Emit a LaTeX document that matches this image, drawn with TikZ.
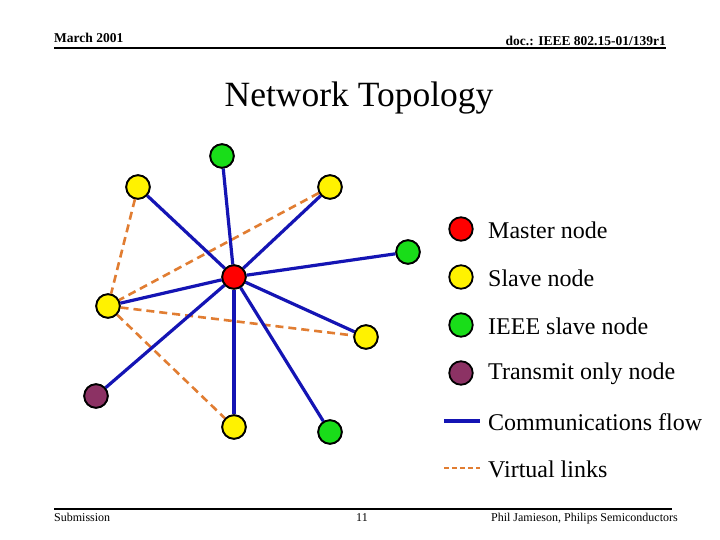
\documentclass[tikz,border=0pt]{standalone}
\usepackage{fontspec}
\setmainfont{Liberation Serif}
\begin{document}
\begin{tikzpicture}[x=1pt,y=-1pt,
  nd/.style={circle,draw=black,line width=1.8pt,minimum size=23.5pt,inner sep=0pt},
  master/.style={nd,fill=red},
  slave/.style={nd,fill=yellow},
  ieee/.style={nd,fill=green!85!black!90},
  tx/.style={nd,fill={rgb,255:red,140;green,50;blue,100}},
  comm/.style={draw={rgb,255:red,20;green,20;blue,180},line width=3.2pt},
  virt/.style={draw={rgb,255:red,225;green,125;blue,50},line width=2.6pt,dash pattern=on 8pt off 5pt},
  legtxt/.style={anchor=west,inner sep=0pt,font=\fontsize{24}{28}\selectfont},
  hdr/.style={inner sep=0pt,font=\fontsize{13.5}{15}\selectfont\bfseries},
  ftr/.style={inner sep=0pt,font=\fontsize{12}{14}\selectfont}]
\useasboundingbox[fill=white] (0,0) rectangle (720,540);
% header/footer
\node[hdr,anchor=base west] (date) at (54,43) {March 2001};
\node[hdr,anchor=base east] (doc) at (666,46) {doc.: IEEE 802.15-01/139r1};
\coordinate (hl) at (54,48); \coordinate (hr) at (666,48);
\draw[line width=2pt] (hl) -- (hr);
\coordinate (fl) at (54,509); \coordinate (fr) at (672,509);
\draw[line width=2pt] (fl) -- (fr);
\node[ftr,anchor=base west] (sub) at (54,521) {Submission};
\node[ftr,anchor=base] (pg) at (362,521) {11};
\node[ftr,anchor=base east] (auth) at (678,521) {Phil Jamieson, Philips Semiconductors};
% title
\node[inner sep=0pt,font=\fontsize{35.5}{40}\selectfont] (title) at (359,98) {Network Topology};
% nodes
\node[master] (m) at (234,277) {};
\node[ieee] (g1) at (222,156) {};
\node[slave] (y1) at (138,187) {};
\node[slave] (y2) at (330,187) {};
\node[ieee] (g2) at (408,252) {};
\node[slave] (y3) at (108,306) {};
\node[slave] (y4) at (366,337) {};
\node[tx] (p) at (96,396) {};
\node[slave] (y5) at (234,427) {};
\node[ieee] (g3) at (330,432) {};
% links
\draw[virt] (y1) -- (y3);
\draw[virt] (y2) -- (y3);
\draw[virt] (y3) -- (y4);
\draw[virt] (y3) -- (y5);
\foreach \n in {g1,y1,y2,g2,y3,y4,p,y5,g3} \draw[comm] (m) -- (\n);
% redraw nodes on top
\node[master] at (m) {};
\foreach \n/\s in {g1/ieee,y1/slave,y2/slave,g2/ieee,y3/slave,y4/slave,p/tx,y5/slave,g3/ieee} \node[\s] at (\n) {};
% legend
\node[master] (lm) at (461,229) {};
\node[slave] (ls) at (461,277) {};
\node[ieee] (li) at (461,325) {};
\node[tx] (lt) at (461,373) {};
\node[legtxt] (tm) at (488,230) {Master node};
\node[legtxt] (ts) at (488,278) {Slave node};
\node[legtxt] (ti) at (488,326) {IEEE slave node};
\node[legtxt] (tt) at (488,374) {Transmit only node};
\coordinate (ca) at (444,421); \coordinate (cb) at (480,421);
\draw[comm] (ca) -- (cb);
\node[legtxt] (tc) at (488,422) {Communications flow};
\coordinate (va) at (444,468); \coordinate (vb) at (480,468);
\draw[virt,dash pattern=on 5pt off 3pt] (va) -- (vb);
\node[legtxt] (tv) at (488,469) {Virtual links};
\end{tikzpicture}
\end{document}
